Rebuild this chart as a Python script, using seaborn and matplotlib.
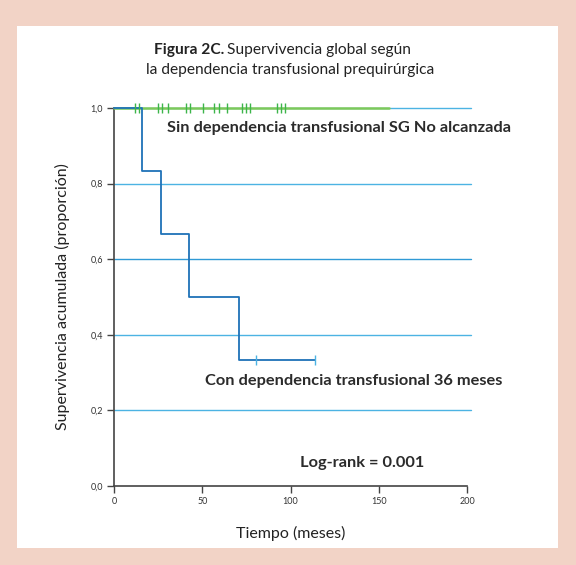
import pandas as pd
import matplotlib.pyplot as plt
import seaborn as sns
from matplotlib.patches import Rectangle

# Datos (meses, proporción)
sin_tiempo = [0, 156]
sin_superv = [1.0, 1.0]
sin_censuras = [11.9, 14.2, 24.9, 27.2, 30.6, 40.8, 43.1, 50.4, 56.7, 59.5,
                64.0, 72.5, 74.8, 77.1, 92.4, 94.6, 96.9]

con_tiempo = [0, 16.0, 26.8, 42.7, 71.0, 114]
con_superv = [1.0, 0.833, 0.667, 0.5, 0.333, 0.333]
con_censuras = [80.6, 114]
con_censuras_y = [0.333, 0.333]

yticks = [0.0, 0.2, 0.4, 0.6, 0.8, 1.0]
xticks = [0, 50, 100, 150, 200]

verde = '#7dc95a'
azul = '#1f72b8'
celeste = '#4cb3e3'

sns.set_style('ticks')
plt.rcParams['font.family'] = ['Lato', 'DejaVu Sans']

fig = plt.figure(figsize=(5.76, 5.65), dpi=100)
fig.patch.set_facecolor('#f2d3c6')
fondo = Rectangle((17 / 576, 1 - 548 / 565), 541 / 576, 522 / 565,
                  transform=fig.transFigure, facecolor='white',
                  edgecolor='none', zorder=-10)
fig.add_artist(fondo)

ax = fig.add_axes([114 / 576, 1 - 486 / 565, 353 / 576, 378 / 565])
ax.set_facecolor('none')
ax.set_zorder(5)

for y in yticks[1:]:
    c = '#2f9ad6' if y == 0.6 else celeste
    ax.axhline(y, xmin=0, xmax=1.012, color=c, lw=1.0, zorder=1, clip_on=False)

df_sin = pd.DataFrame({'Tiempo': sin_tiempo, 'Supervivencia': sin_superv})
df_con = pd.DataFrame({'Tiempo': con_tiempo, 'Supervivencia': con_superv})

sns.lineplot(data=df_sin, x='Tiempo', y='Supervivencia', drawstyle='steps-post',
             color=verde, lw=1.8, ax=ax, zorder=3, clip_on=False)
sns.lineplot(data=df_con, x='Tiempo', y='Supervivencia', drawstyle='steps-post',
             color=azul, lw=1.3, ax=ax, zorder=4, clip_on=False)

ax.scatter(sin_censuras, [1.0] * len(sin_censuras), marker='|', s=45,
           color='#3db54a', lw=1.0, zorder=5, clip_on=False)
ax.scatter(con_censuras, con_censuras_y, marker='|', s=45,
           color=celeste, lw=1.0, zorder=5, clip_on=False)

ax.set_xlim(0, 200)
ax.set_ylim(0, 1.0)
ax.set_xticks(xticks)
ax.set_yticks(yticks)
ax.set_xticklabels([str(x) for x in xticks], fontsize=6.5, color='#333333')
ax.set_yticklabels([f'{y:.1f}'.replace('.', ',') for y in yticks], fontsize=6.5, color='#333333')
ax.tick_params(length=5, width=1, color='#444444', pad=3)
sns.despine(ax=ax)
for s in ['left', 'bottom']:
    ax.spines[s].set_color('#444444')
    ax.spines[s].set_linewidth(1.2)

ax.set_xlabel('Tiempo (meses)', fontsize=11.5, color='#222222', labelpad=14)
ax.set_ylabel('Supervivencia acumulada (proporción)', fontsize=11.5, color='#222222', labelpad=15)

ax.text(30, 0.947, 'Sin dependencia transfusional SG No alcanzada', fontsize=11.8,
        fontweight='bold', color='#2b2b2b', va='center')
ax.text(51.6, 0.278, 'Con dependencia transfusional 36 meses', fontsize=11.8,
        fontweight='bold', color='#2b2b2b', va='center')
ax.text(105.4, 0.061, 'Log-rank = 0.001', fontsize=11.8,
        fontweight='bold', color='#2b2b2b', va='center')

fig.text(0.390, 1 - 50 / 565, 'Figura 2C.', fontsize=11.2, fontweight='bold',
         color='#222222', ha='right', va='center')
fig.text(0.394, 1 - 50 / 565, 'Supervivencia global según', fontsize=11.2,
         color='#222222', ha='left', va='center')
fig.text(0.503, 1 - 70 / 565, 'la dependencia transfusional prequirúrgica', fontsize=11.2,
         color='#222222', ha='center', va='center')

fig.savefig('out.png', dpi=100, facecolor=fig.get_facecolor())
